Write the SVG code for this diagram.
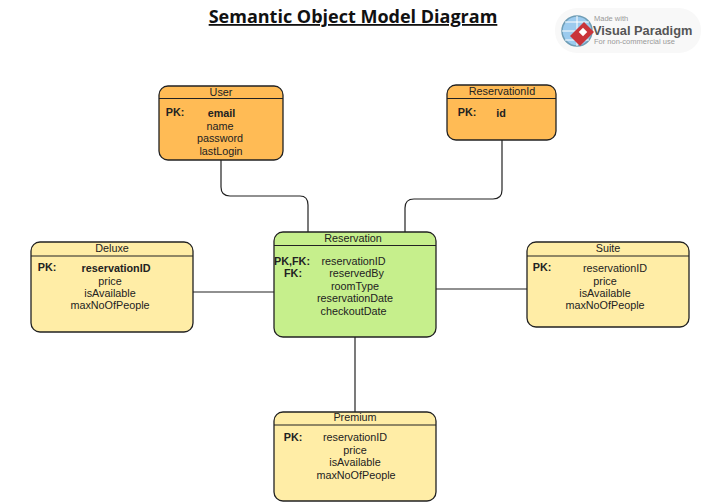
<svg xmlns="http://www.w3.org/2000/svg" width="707" height="503" viewBox="0 0 707 503">
<style>
text{font-family:"Liberation Sans",Arial,sans-serif;font-size:10.8px;fill:#222;text-anchor:middle}
.b{font-weight:bold}
.box{stroke:#222;stroke-width:1.3}
.h{stroke:#222;stroke-width:1.1}
.o{fill:#FFBB55}.g{fill:#C6EF8C}.y{fill:#FFEDA6}
.c{fill:none;stroke:#222;stroke-width:1.2}
</style>
<rect width="707" height="503" fill="#fff"/>
<text id="title" x="353" y="23" style="font-family:'Open Sans','Noto Sans',sans-serif;font-size:18px;font-weight:bold;fill:#111;text-decoration:underline">Semantic Object Model Diagram</text>
<g id="logo">
<rect x="555" y="8" width="146" height="45" rx="22" fill="#f8f8f8"/>
<circle cx="577" cy="31" r="15" fill="#9CCBEE" stroke="#6F9DB5" stroke-width="1.5"/>
<path d="M577 16v30M562 31h30M565 22h24M565 40h24" stroke="#fff" stroke-width="1" fill="none"/>
<path d="M584 22l10 10-14 14-10-10z" fill="#C9343A"/>
<rect x="580" y="29" width="6" height="6" fill="#fff" transform="rotate(45 583 32)"/>
<text x="594" y="21" style="font-size:7.5px;fill:#999;text-anchor:start">Made with</text>
<text x="593" y="35" style="font-size:12.800px;font-weight:bold;fill:#555;text-anchor:start">Visual Paradigm</text>
<text x="594" y="44" style="font-size:7.500px;fill:#999;text-anchor:start">For non-commercial use</text>
</g>
<g id="connectors">
<path class="c" d="M221 160V187Q221 196 230 196H300Q308 196 308 205V232"/>
<path class="c" d="M502 140V190Q502 199 493 199H414Q405 199 405 208V232"/>
<path class="c" d="M193 292H274"/>
<path class="c" d="M436 289H527"/>
<path class="c" d="M355 337V412"/>
</g>
<g id="user">
<rect class="box o" x="159" y="86" width="124" height="74" rx="9"/>
<path class="h" d="M159 98.500H283"/>
<text x="221" y="95.500">User</text>
<text class="b" x="175" y="116">PK:</text>
<text class="b" x="221.500" y="117">email</text>
<text x="220" y="130">name</text>
<text x="220" y="142">password</text>
<text x="221" y="155">lastLogin</text>
</g>
<g id="reservationid">
<rect class="box o" x="447" y="85" width="109" height="55" rx="9"/>
<path class="h" d="M447 98.500H556"/>
<text x="502" y="95">ReservationId</text>
<text class="b" x="467" y="116">PK:</text>
<text class="b" x="501" y="117">id</text>
</g>
<g id="reservation">
<rect class="box g" x="274" y="232" width="162" height="105" rx="9"/>
<path class="h" d="M274 245.500H436"/>
<text x="353" y="242">Reservation</text>
<text class="b" x="292" y="265">PK,FK:</text>
<text class="b" x="293" y="277">FK:</text>
<text x="353.500" y="265">reservationID</text>
<text x="356.500" y="277">reservedBy</text>
<text x="355" y="290">roomType</text>
<text x="355" y="302">reservationDate</text>
<text x="353.500" y="315">checkoutDate</text>
</g>
<g id="deluxe">
<rect class="box y" x="31" y="242" width="162" height="90" rx="9"/>
<path class="h" d="M31 256H193"/>
<text x="112" y="252">Deluxe</text>
<text class="b" x="47" y="271">PK:</text>
<text class="b" x="116" y="272">reservationID</text>
<text x="110" y="285">price</text>
<text x="110" y="297">isAvailable</text>
<text x="110" y="309">maxNoOfPeople</text>
</g>
<g id="suite">
<rect class="box y" x="527" y="242" width="162" height="85" rx="9"/>
<path class="h" d="M527 256H689"/>
<text x="608" y="252">Suite</text>
<text class="b" x="542" y="271">PK:</text>
<text x="615" y="272">reservationID</text>
<text x="605" y="285">price</text>
<text x="605" y="297">isAvailable</text>
<text x="605" y="309">maxNoOfPeople</text>
</g>
<g id="premium">
<rect class="box y" x="274" y="412" width="162" height="89" rx="9"/>
<path class="h" d="M274 425H436"/>
<text x="355" y="421">Premium</text>
<text class="b" x="293" y="441">PK:</text>
<text x="355" y="441">reservationID</text>
<text x="355" y="454">price</text>
<text x="355" y="466">isAvailable</text>
<text x="356" y="479">maxNoOfPeople</text>
</g>
</svg>
